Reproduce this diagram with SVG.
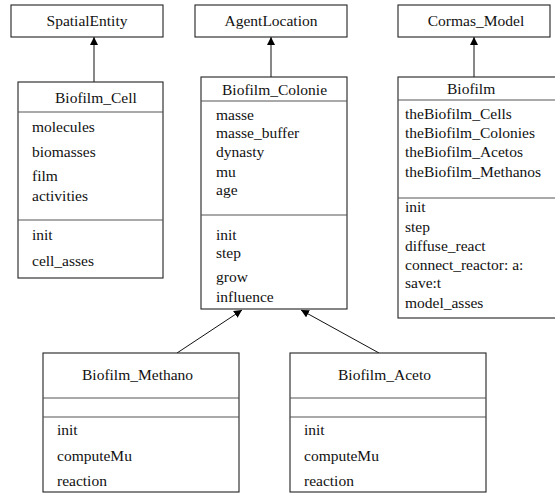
<svg xmlns="http://www.w3.org/2000/svg" width="555" height="493" viewBox="0 0 555 493">
<defs>
<style>
text{font-family:"Liberation Serif","Times New Roman",serif;font-size:15.5px;fill:#111}
.box{fill:#fff;stroke:#222;stroke-width:1.1}
.div{stroke:#555;stroke-width:1.2}
.conn{stroke:#111;stroke-width:1;fill:none}
.mid{text-anchor:middle}
</style>
<marker id="tri" viewBox="0 0 10 10" refX="10" refY="5" markerWidth="8" markerHeight="8" markerUnits="userSpaceOnUse" orient="auto">
<path d="M0,0 L10,5 L0,10 z" fill="#000"/>
</marker>
</defs>
<rect width="555" height="493" fill="#fff"/>
<g id="connectors">
<line class="conn" x1="94" y1="82" x2="94" y2="37" marker-end="url(#tri)"/>
<line class="conn" x1="271" y1="77" x2="271" y2="37" marker-end="url(#tri)"/>
<line class="conn" x1="474" y1="77" x2="474" y2="37" marker-end="url(#tri)"/>
<line class="conn" x1="177" y1="353" x2="242" y2="310" marker-end="url(#tri)"/>
<line class="conn" x1="379" y1="353" x2="301" y2="310" marker-end="url(#tri)"/>
</g>
<g id="SpatialEntity">
<rect class="box" x="11" y="5" width="152" height="32"/>
<text class="mid" x="87" y="26">SpatialEntity</text>
</g>
<g id="AgentLocation">
<rect class="box" x="195" y="5" width="152" height="32"/>
<text class="mid" x="271" y="26">AgentLocation</text>
</g>
<g id="Cormas_Model">
<rect class="box" x="398" y="5" width="152" height="32"/>
<text class="mid" x="476" y="26">Cormas_Model</text>
</g>
<g id="Biofilm_Cell">
<rect class="box" x="18" y="82" width="145" height="196"/>
<line class="div" x1="18" y1="112" x2="163" y2="112"/>
<line class="div" x1="18" y1="220" x2="163" y2="220"/>
<text x="55" y="103">Biofilm_Cell</text>
<text x="32" y="132">molecules</text>
<text x="32" y="157">biomasses</text>
<text x="32" y="181">film</text>
<text x="32" y="201">activities</text>
<text x="32" y="240">init</text>
<text x="32" y="266">cell_asses</text>
</g>
<g id="Biofilm_Colonie">
<rect class="box" x="201" y="77" width="146" height="232"/>
<line class="div" x1="201" y1="101" x2="347" y2="101"/>
<line class="div" x1="201" y1="215" x2="347" y2="215"/>
<text x="222" y="95">Biofilm_Colonie</text>
<text x="216" y="119.5">masse</text>
<text x="216" y="138">masse_buffer</text>
<text x="216" y="157">dynasty</text>
<text x="216" y="176.5">mu</text>
<text x="216" y="195">age</text>
<text x="216" y="240">init</text>
<text x="216" y="258">step</text>
<text x="216" y="282">grow</text>
<text x="216" y="302">influence</text>
</g>
<g id="Biofilm">
<rect class="box" x="398" y="77" width="170" height="241"/>
<line class="div" x1="398" y1="100" x2="555" y2="100"/>
<line class="div" x1="398" y1="198" x2="555" y2="198"/>
<text x="447" y="94">Biofilm</text>
<text x="405" y="119">theBiofilm_Cells</text>
<text x="405" y="138">theBiofilm_Colonies</text>
<text x="405" y="157">theBiofilm_Acetos</text>
<text x="405" y="176.7">theBiofilm_Methanos</text>
<text x="405" y="212.3">init</text>
<text x="405" y="231.7">step</text>
<text x="405" y="250.7">diffuse_react</text>
<text x="405" y="270">connect_reactor: a:</text>
<text x="405" y="288.3">save:t</text>
<text x="405" y="308.3">model_asses</text>
</g>
<g id="Biofilm_Methano">
<rect class="box" x="43" y="353" width="196" height="139"/>
<line class="div" x1="43" y1="398" x2="239" y2="398"/>
<line class="div" x1="43" y1="417" x2="239" y2="417"/>
<text x="82" y="380">Biofilm_Methano</text>
<text x="57" y="435">init</text>
<text x="57" y="460.5">computeMu</text>
<text x="57" y="486">reaction</text>
</g>
<g id="Biofilm_Aceto">
<rect class="box" x="290" y="353" width="196" height="139"/>
<line class="div" x1="290" y1="398" x2="486" y2="398"/>
<line class="div" x1="290" y1="417" x2="486" y2="417"/>
<text x="338" y="380">Biofilm_Aceto</text>
<text x="304" y="435">init</text>
<text x="304" y="460.5">computeMu</text>
<text x="304" y="486">reaction</text>
</g>
</svg>
